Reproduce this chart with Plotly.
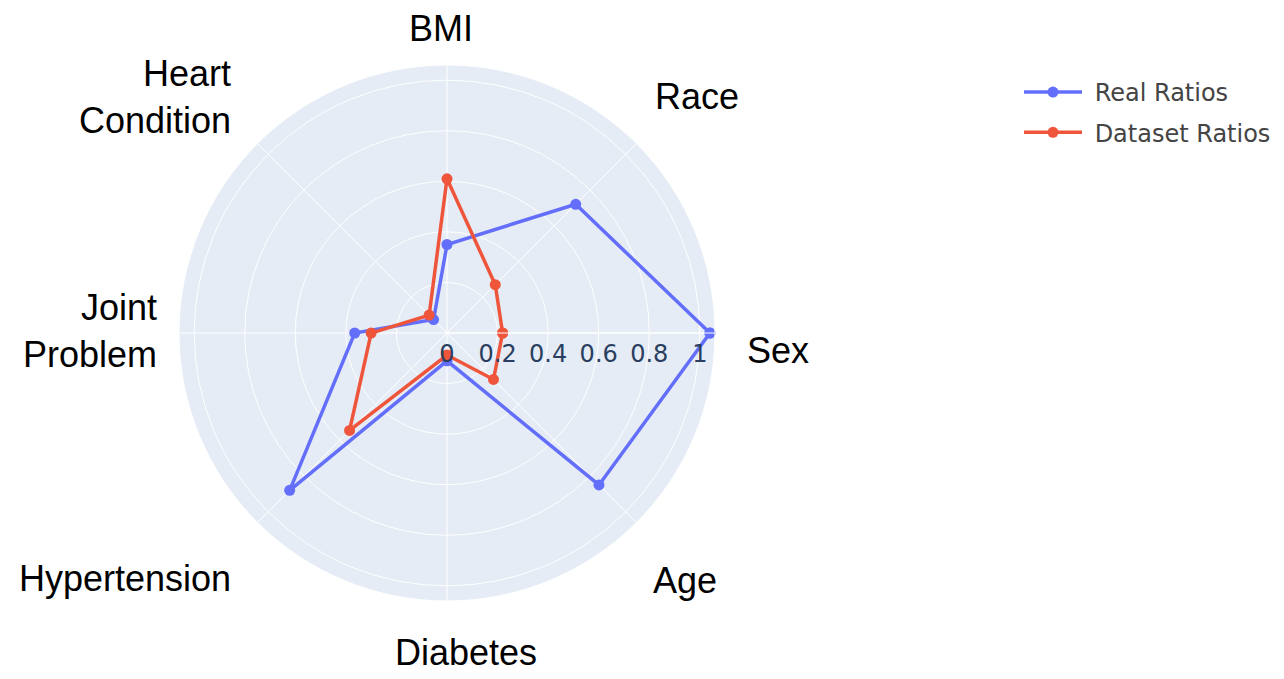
import plotly.graph_objects as go

categories = ["Sex", "Race", "BMI", "Heart Condition", "Joint Problem",
              "Hypertension", "Diabetes", "Age"]
category_labels = ["Sex", "Race", "BMI", "Heart<br>Condition", "Joint<br>Problem",
                   "Hypertension", "Diabetes", "Age"]
real_ratios = [1.04, 0.72, 0.35, 0.075, 0.365, 0.88, 0.11, 0.85]
dataset_ratios = [0.22, 0.27, 0.61, 0.10, 0.30, 0.545, 0.087, 0.26]
radial_ticks = [0, 0.2, 0.4, 0.6, 0.8, 1]
series_names = ["Real Ratios", "Dataset Ratios"]

OFF = 8  # page body margin
W, H = 1284 - 2 * OFF, 679 - 2 * OFF
cx, cy, R = 447 - OFF, 333 - OFF, 268

fig = go.Figure()
fig.add_trace(go.Scatterpolar(
    r=real_ratios + real_ratios[:1], theta=categories + categories[:1],
    mode="lines+markers", name="\u00a0" + series_names[0], legendgroup="a",
    line=dict(color="#636efa", width=3.5), marker=dict(size=11)))
fig.add_trace(go.Scatterpolar(
    r=dataset_ratios + dataset_ratios[:1], theta=categories + categories[:1],
    mode="lines+markers", name="\u00a0" + series_names[1], legendgroup="b",
    line=dict(color="#EF553B", width=3.5), marker=dict(size=11)))

# label placement (pixel anchors in the reference) for the angular category labels
label_pos = [
    (745, 350, "left", "middle", "left", None),
    (653, 97, "left", "middle", "left", None),
    (441, 28, "center", "middle", "center", None),
    (233, 97, "right", "middle", "right", None),
    (159, 331, "right", "middle", "right", None),
    (233, 578, "right", "middle", "right", None),
    (466, 652, "center", "middle", "center", 36),
    (651, 580, "left", "middle", "left", None),
]
annotations = []
for lab, (px, py, xa, ya, al, hgt) in zip(category_labels, label_pos):
    ann = dict(
        text=lab, x=(px - OFF) / W, y=1 - (py - OFF) / H, xref="paper", yref="paper",
        xanchor=xa, yanchor=ya, align=al, showarrow=False,
        font=dict(family="Liberation Sans, Arial, sans-serif", size=36, color="#000000"))
    if hgt:
        ann["height"] = hgt
    annotations.append(ann)

fig.update_layout(
    width=W, height=H,
    margin=dict(l=0, r=0, t=0, b=0),
    template="plotly",
    font=dict(family="DejaVu Sans, Verdana, sans-serif", size=23, color="#2a3f5f"),
    polar=dict(
        domain=dict(x=[(cx - R) / W, (cx + R) / W], y=[(H - cy - R) / H, (H - cy + R) / H]),
        bgcolor="#E5ECF6",
        radialaxis=dict(range=[0, 1.06], tickvals=radial_ticks,
                        tickfont=dict(size=24, color="#2a3f5f")),
        angularaxis=dict(showticklabels=False, direction="counterclockwise", rotation=0),
    ),
    legend=dict(x=(1019 - OFF) / W, y=1 - (70 - OFF) / H, xanchor="left", yanchor="top",
                font=dict(size=24, color="#444"), tracegroupgap=6,
                traceorder="grouped", itemwidth=58),
    annotations=annotations,
    paper_bgcolor="white",
)

fig.write_html("out.html")
